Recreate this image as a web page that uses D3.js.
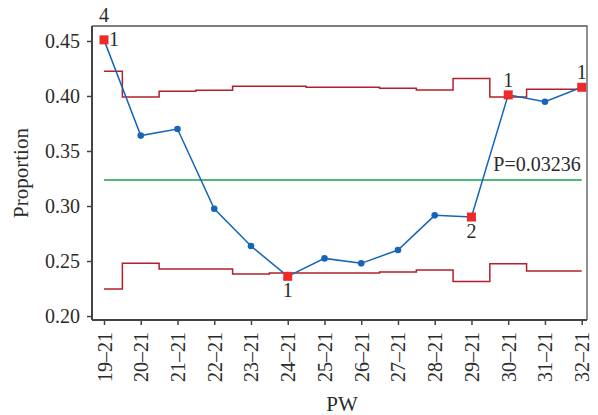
<!DOCTYPE html>
<html>
<head>
<meta charset="utf-8">
<script src="https://cdn.jsdelivr.net/npm/d3@7"></script>
<style>
  html, body { margin: 0; padding: 0; background: #fff; }
  svg text { font-family: "Liberation Serif", "Times New Roman", serif; fill: #2b2b2b; }
</style>
</head>
<body>
<svg id="chart" width="598" height="415"></svg>
<script>
// P chart of weekly proportions with stepped control limits
const weeks = ["19–21","20–21","21–21","22–21","23–21","24–21","25–21","26–21","27–21","28–21","29–21","30–21","31–21","32–21"];
const proportion = [0.451, 0.364, 0.370, 0.2975, 0.2636, 0.2361, 0.2524, 0.2479, 0.2600, 0.2915, 0.2900, 0.4010, 0.3948, 0.4079];
const ucl = [0.4224, 0.3991, 0.4043, 0.4052, 0.4088, 0.4088, 0.4079, 0.4079, 0.4070, 0.4055, 0.4158, 0.3991, 0.4061, 0.4061];
const lcl = [0.2245, 0.2479, 0.2427, 0.2427, 0.2382, 0.2391, 0.2391, 0.2391, 0.2400, 0.2418, 0.2315, 0.2476, 0.2409, 0.2409];
const centerValue = 0.3236;
const centerLabel = "P=0.03236";
const yTicks = [0.20, 0.25, 0.30, 0.35, 0.40, 0.45];

// out-of-control points and the test numbers printed beside them
const flaggedIdx = [0, 5, 10, 11, 13];
const testLabels = [
  { i: 0,  text: "1", pos: "right" },
  { i: 0,  text: "4", pos: "top" },
  { i: 5,  text: "1", pos: "below" },
  { i: 10, text: "2", pos: "below" },
  { i: 11, text: "1", pos: "above" },
  { i: 13, text: "1", pos: "above" }
];

const svg = d3.select("#chart");
const frame = { left: 92, right: 587, top: 26, bottom: 320 };

const x = d3.scalePoint().domain(weeks).range([104, 581.7]);
const y = d3.scaleLinear().domain([0.1964, 0.4636]).range([frame.bottom, frame.top]);

// top / right border
svg.append("path")
  .attr("d", `M${frame.left},${frame.top}H${frame.right}V${frame.bottom}`)
  .attr("fill", "none").attr("stroke", "#555").attr("stroke-width", 1.3);

// axes
const yAxis = svg.append("g")
  .attr("transform", `translate(${frame.left},0)`)
  .call(d3.axisLeft(y).tickValues(yTicks).tickFormat(d3.format(".2f")).tickSizeOuter(0).tickSize(5).tickPadding(7));
const xAxis = svg.append("g")
  .attr("transform", `translate(0,${frame.bottom})`)
  .call(d3.axisBottom(x).tickSizeOuter(0).tickSize(5));

[yAxis, xAxis].forEach(g => {
  g.select(".domain").attr("stroke", "#444").attr("stroke-width", 2);
  g.selectAll(".tick line").attr("stroke", "#444").attr("stroke-width", 1.5);
  g.selectAll("text").attr("font-size", 20).attr("fill", "#2b2b2b")
    .attr("font-family", '"Liberation Serif", serif');
});
// extend the domains so the frame corners close
yAxis.select(".domain").attr("d", `M0,${frame.bottom}V${frame.top}`);
xAxis.select(".domain").attr("d", `M${frame.left},0H${frame.right}`);

xAxis.selectAll(".tick text")
  .attr("transform", "rotate(-90)")
  .attr("text-anchor", "end")
  .attr("x", -12)
  .attr("y", 0)
  .attr("dy", "0.35em");

// axis titles
svg.append("text")
  .attr("transform", `translate(28,${(frame.top + frame.bottom) / 2}) rotate(-90)`)
  .attr("text-anchor", "middle").attr("font-size", 21)
  .text("Proportion");
svg.append("text")
  .attr("x", 342).attr("y", 411)
  .attr("text-anchor", "middle").attr("font-size", 21)
  .text("PW");

// control limits as steps
const step = d3.line().x((d, i) => x(weeks[i])).y(d => y(d)).curve(d3.curveStep);
[ucl, lcl].forEach(arr => {
  svg.append("path").attr("d", step(arr))
    .attr("fill", "none").attr("stroke", "#b3202c").attr("stroke-width", 1.5);
});

// centre line
svg.append("line")
  .attr("x1", x(weeks[0])).attr("x2", x(weeks[weeks.length - 1]))
  .attr("y1", y(centerValue)).attr("y2", y(centerValue))
  .attr("stroke", "#14a24a").attr("stroke-width", 1.5);
svg.append("text")
  .attr("x", x(weeks[weeks.length - 1]) - 1).attr("y", y(centerValue) - 9)
  .attr("text-anchor", "end").attr("font-size", 20)
  .text(centerLabel);

// proportion series
const line = d3.line().x((d, i) => x(weeks[i])).y(d => y(d));
svg.append("path").attr("d", line(proportion))
  .attr("fill", "none").attr("stroke", "#1565b8").attr("stroke-width", 1.5);

svg.selectAll("circle.pt")
  .data(proportion.map((v, i) => ({ v, i })).filter(d => !flaggedIdx.includes(d.i)))
  .join("circle").attr("class", "pt")
  .attr("cx", d => x(weeks[d.i])).attr("cy", d => y(d.v)).attr("r", 3.3)
  .attr("fill", "#1565b8");

svg.selectAll("rect.flag")
  .data(flaggedIdx)
  .join("rect").attr("class", "flag")
  .attr("x", i => x(weeks[i]) - 4.5).attr("y", i => y(proportion[i]) - 4.5)
  .attr("width", 9).attr("height", 9)
  .attr("fill", "#ee2b2b");

// test-number annotations
svg.selectAll("text.test")
  .data(testLabels)
  .join("text").attr("class", "test")
  .attr("font-size", 20)
  .attr("text-anchor", d => d.pos === "right" ? "start" : "middle")
  .attr("x", d => x(weeks[d.i]) + (d.pos === "right" ? 5 : 0))
  .attr("y", d => {
    const py = y(proportion[d.i]);
    if (d.pos === "right") return py + 6;
    if (d.pos === "top") return 22;
    if (d.pos === "below") return py + 21;
    return py - 8;
  })
  .text(d => d.text);
</script>
</body>
</html>
